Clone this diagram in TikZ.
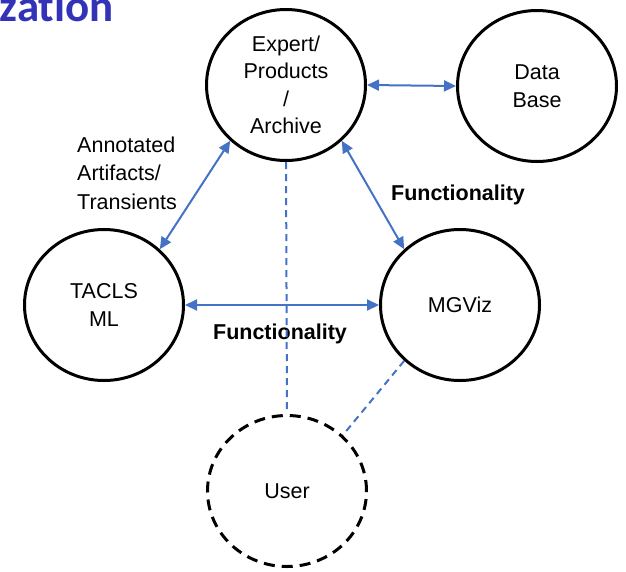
\documentclass[tikz,border=0pt]{standalone}
\usepackage{fontspec}
\setmainfont{Liberation Sans}
\newfontfamily\titlefont[Ligatures=NoCommon]{Carlito}
\usetikzlibrary{shapes.geometric,arrows.meta}
\definecolor{linkblue}{HTML}{4472C4}
\definecolor{titleblue}{HTML}{3333B8}
\tikzset{
  bubble/.style={ellipse, draw=black, line width=3pt, minimum width=159pt,
    minimum height=151pt, inner sep=0pt, align=center,
    font=\fontsize{21.5}{27.5}\selectfont},
  userbubble/.style={bubble, dash pattern=on 11pt off 7pt},
  link/.style={draw=linkblue, line width=2pt,
    {Triangle[length=12pt,width=11pt]}-{Triangle[length=12pt,width=11pt]}},
  weaklink/.style={draw=linkblue, line width=2pt, dash pattern=on 7pt off 5pt},
  note/.style={font=\fontsize{21.5}{28.5}\selectfont, inner sep=0pt},
  boldnote/.style={font=\fontsize{21.5}{27.5}\selectfont\bfseries, inner sep=0pt}
}
\begin{document}
\begin{tikzpicture}[x=1pt,y=-1pt]
\useasboundingbox (0,0) rectangle (626,571);

% slide title remnant, running off the top edge
\node[anchor=base east, inner sep=0pt, text=titleblue,
  font=\titlefont\fontsize{45}{45}\selectfont\bfseries] (title) at (114,21) {zation};

% components
\node[bubble] (ex) at (286,85) {Expert/\\Products\\/\\Archive};
\node[bubble] (db) at (537,86) {Data\\Base};
\node[bubble] (ta) at (104,305) {TACLS\\ML};
\node[bubble] (mg) at (460,305) {MGViz};
\node[userbubble] (us) at (287,491) {User};

% labels
\node[note, align=left] (ann) at (127,173) {Annotated\\Artifacts/\\Transients};
\node[boldnote] (f1) at (458,195) {Functionality};
\node[boldnote] (f2) at (280,334) {Functionality};

% connections
\draw[link] (ex.0) -- (db.180);
\draw[link] (ex.-45) -- (mg.135);
\draw[link] (ex.-135) -- (ta.45);
\draw[link] (ta.0) -- (mg.180);
\draw[weaklink, shorten >=4pt] (ex.south) -- (us.north);
\draw[weaklink] (mg.-135) -- (us.45);
\end{tikzpicture}
\end{document}
